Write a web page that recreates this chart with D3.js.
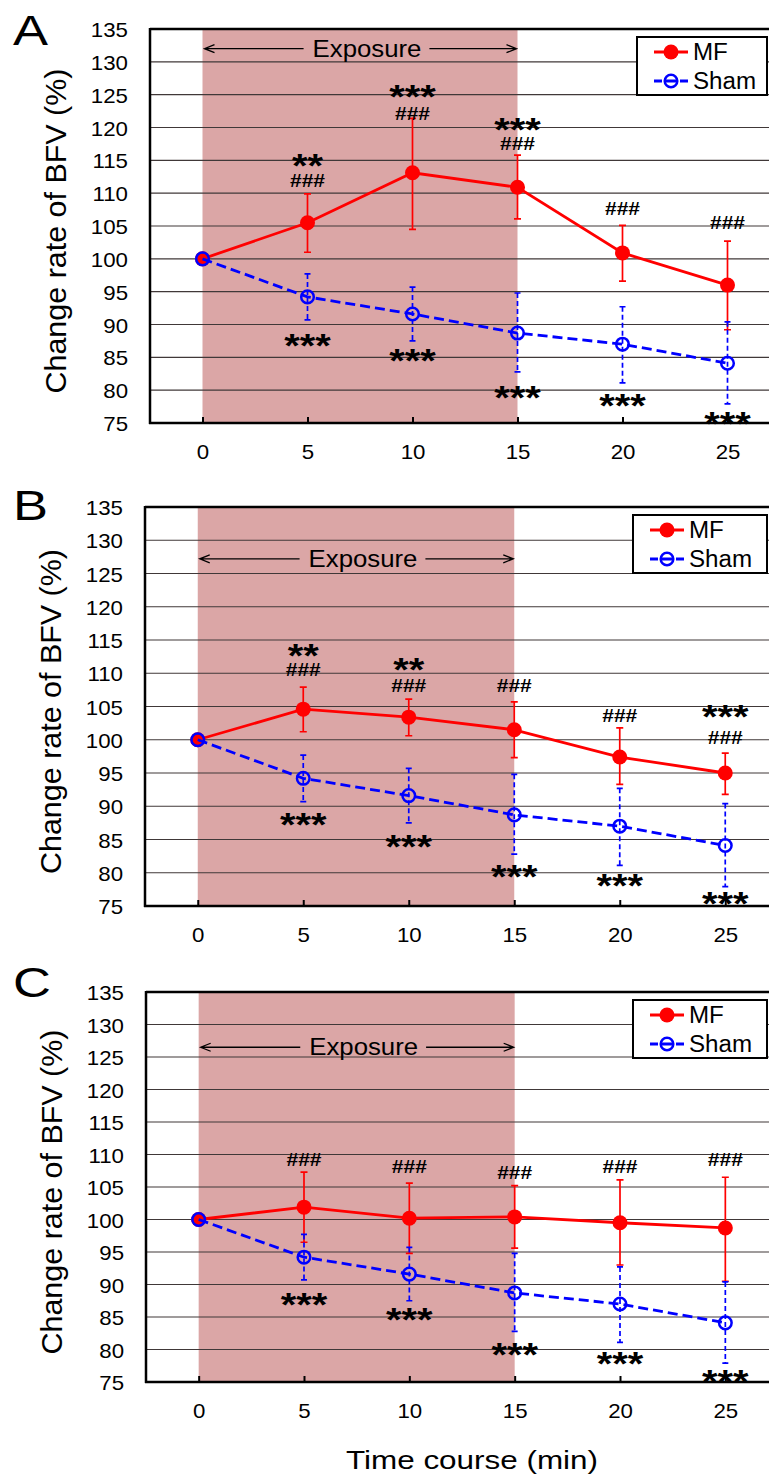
<!DOCTYPE html>
<html>
<head>
<meta charset="utf-8">
<script src="https://cdn.jsdelivr.net/npm/d3@7"></script>
<style>
  body { margin: 0; background: #fff; }
  svg { display: block; font-family: "Liberation Sans", Arial, sans-serif; }
</style>
</head>
<body>
<svg id="chart" width="769" height="1477"></svg>
<script>
// time points (min)
let times = [0, 5, 10, 15, 20, 25];
let xTicks = [0, 5, 10, 15, 20, 25];
let yTicks = [75, 80, 85, 90, 95, 100, 105, 110, 115, 120, 125, 130, 135];

// sham group is the same in all 3 panels
let sham = [100, 94.2, 91.6, 88.7, 87.0, 84.1];
let shamHi = [100, 97.7, 95.7, 94.8, 92.7, 90.4];
let shamLo = [100, 90.7, 87.5, 82.8, 81.1, 77.9];

// MF group, panel A / B / C
let mfA = [100, 105.5, 113.1, 110.9, 100.9, 96.0];
let mfAHi = [100, 109.9, 121.4, 115.8, 105.1, 102.7];
let mfALo = [100, 101.0, 104.5, 106.1, 96.6, 89.2];
let mfB = [100, 104.6, 103.4, 101.5, 97.4, 95.0];
let mfBHi = [100, 107.9, 106.1, 105.7, 101.8, 98.0];
let mfBLo = [100, 101.2, 100.6, 97.3, 93.3, 91.8];
let mfC = [100, 101.9, 100.2, 100.4, 99.5, 98.7];
let mfCHi = [100, 107.3, 105.6, 105.2, 106.1, 106.5];
let mfCLo = [100, 96.5, 94.8, 95.6, 93.0, 90.5];

// significance marks (level = value where the mark sits)
let sigTimes = [5, 10, 15, 20, 25];
let hashA = [112.0, 122.2, 117.6, 107.7, 105.5];
let starA = ["**", "***", "***", "", ""];
let starLvlA = [115.2, 125.7, 120.7, 0, 0];
let shamStarA = [87.8, 85.5, 79.9, 78.7, 75.9];
let hashB = [110.5, 108.2, 108.2, 103.7, 100.4];
let starB = ["**", "**", "", "", "***"];
let starLvlB = [113.6, 111.5, 0, 0, 104.5];
let shamStarB = [88.2, 84.9, 80.4, 79.1, 76.4];
let hashC = [109.2, 108.1, 107.2, 108.1, 109.3];
let starC = ["", "", "", "", ""];
let starLvlC = [0, 0, 0, 0, 0];
let shamStarC = [87.9, 85.6, 80.2, 78.8, 76.1];

let exposureStart = 0, exposureEnd = 15;
let exposureLvl = [132, 127.2, 126.5];
let panelNames = ["A", "B", "C"];

let red = "#ff0000", blue = "#0000ff", shade = "rgb(219,166,166)";

let svg = d3.select("#chart");

// stretch a text a little wider (original lettering is wide)
function stretch(sel, k) {
  sel.each(function () {
    let w = this.getComputedTextLength();
    d3.select(this).attr("textLength", w * k).attr("lengthAdjust", "spacingAndGlyphs");
  });
}

// star marks: bold asterisks, center of glyph at cy
function stars(g, cx, cy, s) {
  g.append("text")
    .attr("x", cx).attr("y", cy + 18)
    .attr("text-anchor", "middle").attr("font-size", 33).attr("font-weight", "bold")
    .attr("textLength", s.length * 15.5).attr("lengthAdjust", "spacingAndGlyphs")
    .text(s);
}

let panels = [
  { left: 150, width: 630, top: 29, bottom: 423, letterY: 45,
    mf: mfA, hi: mfAHi, lo: mfALo, hash: hashA, star: starA, starLvl: starLvlA, shamStar: shamStarA, legLeft: 637 },
  { left: 145, width: 633, top: 507, bottom: 906, letterY: 520,
    mf: mfB, hi: mfBHi, lo: mfBLo, hash: hashB, star: starB, starLvl: starLvlB, shamStar: shamStarB, legLeft: 633 },
  { left: 146, width: 632, top: 992, bottom: 1382, letterY: 997,
    mf: mfC, hi: mfCHi, lo: mfCLo, hash: hashC, star: starC, starLvl: starLvlC, shamStar: shamStarC, legLeft: 633 }
];

panels.forEach(function (p, pi) {
  let x = d3.scaleLinear().domain([-2.5, 27.5]).range([p.left, p.left + p.width]);
  let y = d3.scaleLinear().domain([75, 135]).range([p.bottom, p.top]);
  let g = svg.append("g");

  // exposure shading
  g.append("rect")
    .attr("x", x(exposureStart)).attr("y", y(135))
    .attr("width", x(exposureEnd) - x(exposureStart))
    .attr("height", y(75) - y(135))
    .attr("fill", shade);

  // gridlines
  g.selectAll(".grid")
    .data(yTicks.filter(d => d > 75 && d < 135))
    .enter().append("line")
    .attr("x1", x(-2.5)).attr("x2", x(27.5))
    .attr("y1", d => y(d)).attr("y2", d => y(d))
    .attr("stroke", "#403838").attr("stroke-width", 1.2);

  // top border
  g.append("line")
    .attr("x1", x(-2.5)).attr("x2", x(27.5))
    .attr("y1", y(135)).attr("y2", y(135))
    .attr("stroke", "#000").attr("stroke-width", 2.5);

  // y axis
  let yAxis = g.append("g")
    .attr("transform", "translate(" + p.left + ",0)")
    .call(d3.axisLeft(y).tickValues(yTicks).tickSize(0).tickPadding(22));
  yAxis.select(".domain").remove();
  yAxis.selectAll("text")
    .attr("font-size", 21).attr("fill", "#000").attr("font-family", null)
    .attr("dy", "0.36em");
  stretch(yAxis.selectAll("text"), 1.06);
  g.append("line")
    .attr("x1", p.left).attr("x2", p.left)
    .attr("y1", y(135) - 1).attr("y2", y(75) + 1)
    .attr("stroke", "#000").attr("stroke-width", 2.5);

  // x axis
  let xAxis = g.append("g")
    .attr("transform", "translate(0," + p.bottom + ")")
    .call(d3.axisBottom(x).tickValues(xTicks).tickSizeInner(-6).tickSizeOuter(0).tickPadding(21));
  xAxis.select(".domain").remove();
  xAxis.selectAll("line").attr("stroke", "#000").attr("stroke-width", 2);
  xAxis.selectAll("text").attr("font-size", 21).attr("fill", "#000").attr("font-family", null);
  stretch(xAxis.selectAll("text"), 1.06);
  g.append("line")
    .attr("x1", p.left - 1).attr("x2", x(27.5))
    .attr("y1", p.bottom).attr("y2", p.bottom)
    .attr("stroke", "#000").attr("stroke-width", 2.5);

  // exposure arrow
  let ey = y(exposureLvl[pi]);
  let et = g.append("text")
    .attr("x", (x(exposureStart) + x(exposureEnd)) / 2 + 7)
    .attr("y", ey + 8)
    .attr("text-anchor", "middle")
    .attr("font-size", 23)
    .text("Exposure");
  stretch(et, 1.12);
  let bb = et.node().getBBox();
  let ax0 = x(exposureStart) + 2, ax1 = x(exposureEnd) - 1;
  g.append("path")
    .attr("d", "M" + ax0 + "," + ey + "H" + (bb.x - 9) +
      "M" + (bb.x + bb.width + 8) + "," + ey + "H" + ax1 +
      "M" + (ax0 + 10) + "," + (ey - 4) + "L" + ax0 + "," + ey + "L" + (ax0 + 10) + "," + (ey + 4) +
      "M" + (ax1 - 10) + "," + (ey - 4) + "L" + ax1 + "," + ey + "L" + (ax1 - 10) + "," + (ey + 4))
    .attr("fill", "none").attr("stroke", "#000").attr("stroke-width", 1.3);

  // MF series
  let mfPts = times.map((t, i) => ({ t: t, v: p.mf[i], hi: p.hi[i], lo: p.lo[i] }));
  let line = d3.line().x(d => x(d.t)).y(d => y(d.v));
  g.selectAll(".mfErr").data(mfPts.slice(1)).enter().append("path")
    .attr("d", d => "M" + x(d.t) + "," + y(d.hi) + "V" + y(d.lo) +
      "M" + (x(d.t) - 3.5) + "," + y(d.hi) + "h7" +
      "M" + (x(d.t) - 3.5) + "," + y(d.lo) + "h7")
    .attr("stroke", red).attr("stroke-width", 1.7).attr("fill", "none");
  g.append("path").datum(mfPts).attr("d", line)
    .attr("fill", "none").attr("stroke", red).attr("stroke-width", 2.8);
  g.selectAll(".mfDot").data(mfPts).enter().append("circle")
    .attr("cx", d => x(d.t)).attr("cy", d => y(d.v)).attr("r", 7.5)
    .attr("fill", red);

  // Sham series
  let shPts = times.map((t, i) => ({ t: t, v: sham[i], hi: shamHi[i], lo: shamLo[i] }));
  g.selectAll(".shErr").data(shPts.slice(1)).enter().append("path")
    .attr("d", d => "M" + x(d.t) + "," + y(d.hi) + "V" + y(d.lo))
    .attr("stroke", blue).attr("stroke-width", 1.7).attr("stroke-dasharray", "5,3");
  g.selectAll(".shCap").data(shPts.slice(1)).enter().append("path")
    .attr("d", d => "M" + (x(d.t) - 3) + "," + y(d.hi) + "h6" +
      "M" + (x(d.t) - 3) + "," + y(d.lo) + "h6")
    .attr("stroke", blue).attr("stroke-width", 1.7);
  g.append("path").datum(shPts).attr("d", line)
    .attr("fill", "none").attr("stroke", blue).attr("stroke-width", 2.8)
    .attr("stroke-dasharray", "10,5");
  g.selectAll(".shDot").data(shPts).enter().append("circle")
    .attr("cx", d => x(d.t)).attr("cy", d => y(d.v)).attr("r", 6.3)
    .attr("fill", "none").attr("stroke", blue).attr("stroke-width", 2.5);

  // significance marks
  sigTimes.forEach(function (t, i) {
    g.append("text")
      .attr("x", x(t)).attr("y", y(p.hash[i]) + 6.5)
      .attr("text-anchor", "middle").attr("font-size", 18).attr("font-weight", "bold")
      .attr("textLength", 35).attr("lengthAdjust", "spacingAndGlyphs")
      .text("###");
    if (p.star[i]) stars(g, x(t), y(p.starLvl[i]), p.star[i]);
    stars(g, x(t), y(p.shamStar[i]), "***");
  });

  // legend
  let lx = p.legLeft, ly = p.top + 8;
  g.append("rect")
    .attr("x", lx).attr("y", ly).attr("width", 767 - lx).attr("height", 58)
    .attr("fill", "#fff").attr("stroke", "#000").attr("stroke-width", 2);
  let r1 = ly + 15, r2 = ly + 44;
  g.append("line").attr("x1", lx + 17).attr("x2", lx + 51).attr("y1", r1).attr("y2", r1)
    .attr("stroke", red).attr("stroke-width", 2.8);
  g.append("circle").attr("cx", lx + 34).attr("cy", r1).attr("r", 7.5).attr("fill", red);
  g.append("path").attr("d", "M" + (lx + 17) + "," + r2 + "h8M" + (lx + 43) + "," + r2 + "h8M" + (lx + 28) + "," + r2 + "h12")
    .attr("stroke", blue).attr("stroke-width", 2.8);
  g.append("circle").attr("cx", lx + 34).attr("cy", r2).attr("r", 6.3)
    .attr("fill", "none").attr("stroke", blue).attr("stroke-width", 2.5);
  let t1 = g.append("text").attr("x", lx + 56).attr("y", r1 + 8).attr("font-size", 23).text("MF");
  let t2 = g.append("text").attr("x", lx + 56).attr("y", r2 + 8).attr("font-size", 23).text("Sham");
  stretch(t1, 1.05);
  stretch(t2, 1.05);

  // panel letter
  let lt = svg.append("text").attr("x", 13).attr("y", p.letterY)
    .attr("font-size", 42).text(panelNames[pi]);
  stretch(lt, 1.25);

  // y title
  let cy = (p.top + p.bottom) / 2 + 5;
  let yt = svg.append("text")
    .attr("transform", "translate(" + (p.left - 94) + "," + cy + ") rotate(-90)")
    .attr("text-anchor", "middle").attr("dy", "0.35em")
    .attr("font-size", 29)
    .text("Change rate of BFV (%)");
  yt.attr("textLength", 325).attr("lengthAdjust", "spacingAndGlyphs");
});

// x title
let xt = svg.append("text")
  .attr("x", 472).attr("y", 1469)
  .attr("text-anchor", "middle").attr("font-size", 26)
  .text("Time course (min)");
xt.attr("textLength", 252).attr("lengthAdjust", "spacingAndGlyphs");
</script>
</body>
</html>
